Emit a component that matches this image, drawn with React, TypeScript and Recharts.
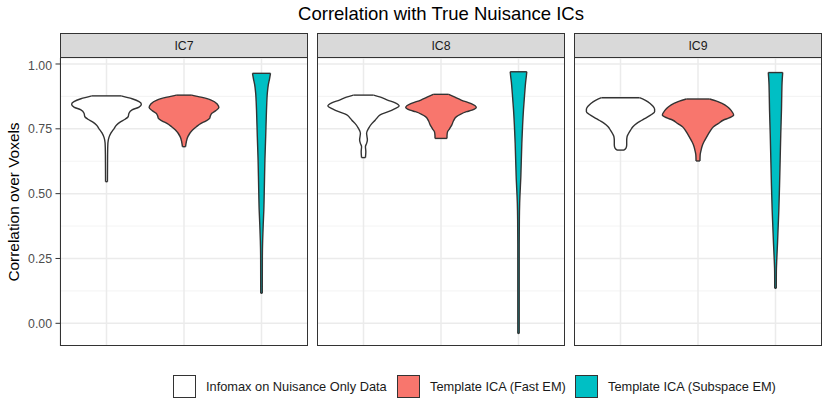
import React from 'react';
import { ComposedChart, Area, Line, XAxis, YAxis, CartesianGrid } from 'recharts';

const FACETS = ['IC7', 'IC8', 'IC9'];
const GROUPS = ['Infomax on Nuisance Only Data', 'Template ICA (Fast EM)', 'Template ICA (Subspace EM)'];
const GROUP_FILLS = ['#FFFFFF', '#F8766D', '#00BFC4'];
const Y_TICKS = [0, 0.25, 0.5, 0.75, 1];
const Y_MINOR = [0.125, 0.375, 0.625, 0.875];
const X_POS = [1, 2, 3];

// each violin: [correlation, half-width in x units], top to bottom
const IC7_INFOMAX = [
  [0.877, 0.19], [0.866, 0.33], [0.855, 0.42], [0.845, 0.45], [0.834, 0.42], [0.823, 0.33],
  [0.81, 0.29], [0.797, 0.28], [0.787, 0.24], [0.777, 0.18], [0.765, 0.13], [0.752, 0.1],
  [0.735, 0.06], [0.715, 0.03], [0.695, 0.018], [0.65, 0.014], [0.6, 0.013], [0.546, 0.012],
];
const IC7_FAST = [
  [0.88, 0.1], [0.872, 0.22], [0.861, 0.35], [0.845, 0.43], [0.832, 0.45], [0.82, 0.41],
  [0.81, 0.36], [0.8, 0.34], [0.79, 0.33], [0.78, 0.28], [0.771, 0.22], [0.758, 0.16],
  [0.745, 0.11], [0.72, 0.05], [0.7, 0.03], [0.681, 0.02],
];
const IC7_SUBSPACE = [
  [0.964, 0.116], [0.945, 0.105], [0.92, 0.088], [0.887, 0.075], [0.85, 0.068], [0.82, 0.064],
  [0.72, 0.054], [0.63, 0.044], [0.53, 0.037], [0.437, 0.03], [0.38, 0.022], [0.32, 0.015],
  [0.25, 0.011], [0.116, 0.01],
];
const IC8_INFOMAX = [
  [0.88, 0.13], [0.872, 0.22], [0.861, 0.31], [0.85, 0.41], [0.838, 0.46], [0.827, 0.4],
  [0.816, 0.32], [0.805, 0.22], [0.794, 0.18], [0.783, 0.15], [0.771, 0.11], [0.752, 0.065],
  [0.733, 0.04], [0.72, 0.045], [0.707, 0.05], [0.694, 0.04], [0.681, 0.025], [0.662, 0.03],
  [0.639, 0.025],
];
const IC8_FAST = [
  [0.883, 0.1], [0.872, 0.18], [0.861, 0.26], [0.847, 0.39], [0.833, 0.455], [0.822, 0.4],
  [0.816, 0.33], [0.806, 0.25], [0.797, 0.2], [0.78, 0.16], [0.765, 0.14], [0.75, 0.11],
  [0.739, 0.085], [0.725, 0.078], [0.713, 0.077],
];
const IC8_SUBSPACE = [
  [0.97, 0.107], [0.95, 0.1], [0.93, 0.092], [0.887, 0.08], [0.823, 0.064], [0.694, 0.043],
  [0.565, 0.03], [0.463, 0.015], [0.4, 0.011], [0.3, 0.009], [0.15, 0.009], [-0.039, 0.009],
];
const IC9_INFOMAX = [
  [0.87, 0.245], [0.862, 0.31], [0.855, 0.35], [0.84, 0.41], [0.826, 0.44], [0.816, 0.44],
  [0.805, 0.4], [0.794, 0.34], [0.782, 0.27], [0.771, 0.21], [0.758, 0.16], [0.745, 0.13],
  [0.73, 0.1], [0.72, 0.085], [0.705, 0.08], [0.688, 0.08], [0.675, 0.07], [0.668, 0.045],
];
const IC9_FAST = [
  [0.865, 0.15], [0.857, 0.24], [0.848, 0.31], [0.835, 0.38], [0.82, 0.43], [0.803, 0.46],
  [0.792, 0.4], [0.784, 0.33], [0.77, 0.26], [0.758, 0.2], [0.745, 0.165], [0.733, 0.14],
  [0.715, 0.105], [0.7, 0.077], [0.685, 0.055], [0.668, 0.04], [0.65, 0.028], [0.626, 0.025],
];
const IC9_SUBSPACE = [
  [0.967, 0.093], [0.93, 0.085], [0.887, 0.081], [0.823, 0.077], [0.73, 0.068], [0.63, 0.06],
  [0.53, 0.052], [0.437, 0.043], [0.37, 0.034], [0.309, 0.026], [0.244, 0.016], [0.2, 0.011],
  [0.135, 0.01],
];

const VIOLINS: Record<string, number[][][]> = {
  IC7: [IC7_INFOMAX, IC7_FAST, IC7_SUBSPACE],
  IC8: [IC8_INFOMAX, IC8_FAST, IC8_SUBSPACE],
  IC9: [IC9_INFOMAX, IC9_FAST, IC9_SUBSPACE],
};

const FONT = '"Liberation Sans", Arial, Helvetica, sans-serif';
const OUTLINE = '#333333';
const STROKE_W = 1.4;
const PANEL_TOP = 58;
const PANEL_H = 288;
const PANEL_W = 248;
const AXIS_W = 60;
const PANEL_LEFT = [60, 317, 574];
const Y_DOMAIN = [-0.0875, 1.0231];

const toRange = (pts: number[][], pos: number) => pts.map(([y, w]) => ({ y, v: [pos - w, pos + w] }));
const edge = (p: number[], pos: number) => [
  { y: p[0], v: pos - p[1] },
  { y: p[0], v: pos + p[1] },
];

const Panel = ({ facet, showAxis }: { facet: string; showAxis: boolean }) => {
  const violins = VIOLINS[facet];
  return (
    <ComposedChart
      layout="vertical"
      width={showAxis ? AXIS_W + PANEL_W : PANEL_W}
      height={PANEL_H}
      margin={{ top: 0, right: 0, bottom: 0, left: 0 }}
    >
      <CartesianGrid stroke="#F0F0F0" strokeWidth={0.8} vertical={false} yAxisId="minor" />
      <CartesianGrid stroke="#EBEBEB" strokeWidth={1.5} />
      <XAxis type="number" domain={[0.4, 3.6]} ticks={X_POS} allowDataOverflow hide />
      <YAxis
        yAxisId="minor"
        type="number"
        dataKey="y"
        reversed
        domain={Y_DOMAIN}
        ticks={Y_MINOR}
        allowDataOverflow
        hide
      />
      <YAxis
        type="number"
        dataKey="y"
        reversed
        domain={Y_DOMAIN}
        ticks={Y_TICKS}
        allowDataOverflow
        hide={!showAxis}
        width={AXIS_W}
        axisLine={false}
        tickLine={{ stroke: OUTLINE }}
        tickSize={4.5}
        tickMargin={3.5}
        tick={{ fill: '#4D4D4D', fontSize: 12.3, fontFamily: FONT }}
        tickFormatter={(v: number) => v.toFixed(2)}
      />
      {violins.map((pts, i) => (
        <Area
          key={`a${i}`}
          data={toRange(pts, X_POS[i])}
          dataKey="v"
          type="monotone"
          fill={GROUP_FILLS[i]}
          fillOpacity={1}
          stroke={OUTLINE}
          strokeWidth={STROKE_W}
          isAnimationActive={false}
        />
      ))}
      {violins.map((pts, i) => (
        <Line
          key={`t${i}`}
          data={edge(pts[0], X_POS[i])}
          dataKey="v"
          type="linear"
          stroke={OUTLINE}
          strokeWidth={STROKE_W}
          dot={false}
          isAnimationActive={false}
        />
      ))}
      {violins.map((pts, i) => (
        <Line
          key={`b${i}`}
          data={edge(pts[pts.length - 1], X_POS[i])}
          dataKey="v"
          type="linear"
          stroke={OUTLINE}
          strokeWidth={STROKE_W}
          dot={false}
          isAnimationActive={false}
        />
      ))}
    </ComposedChart>
  );
};

export default function App() {
  return (
    <div
      style={{
        position: 'absolute',
        left: 0,
        top: 0,
        width: 830,
        height: 415,
        background: '#FFFFFF',
        fontFamily: FONT,
        overflow: 'hidden',
      }}
    >
      <div
        style={{
          position: 'absolute',
          left: PANEL_LEFT[0],
          width: PANEL_LEFT[2] + PANEL_W - PANEL_LEFT[0],
          top: 3,
          textAlign: 'center',
          fontSize: 18.5,
          color: '#000',
        }}
      >
        Correlation with True Nuisance ICs
      </div>

      <div
        style={{
          position: 'absolute',
          left: 14,
          top: PANEL_TOP + PANEL_H / 2,
          transform: 'translate(-50%, -50%) rotate(-90deg)',
          whiteSpace: 'nowrap',
          fontSize: 15.4,
          color: '#000',
        }}
      >
        Correlation over Voxels
      </div>

      {FACETS.map((facet, i) => (
        <React.Fragment key={facet}>
          <div
            style={{
              position: 'absolute',
              left: PANEL_LEFT[i],
              top: 33,
              width: PANEL_W,
              height: PANEL_TOP - 33,
              boxSizing: 'border-box',
              background: '#D9D9D9',
              border: `1px solid ${OUTLINE}`,
              display: 'flex',
              alignItems: 'center',
              justifyContent: 'center',
              fontSize: 12.3,
              color: '#1A1A1A',
            }}
          >
            {facet}
          </div>
          <div
            style={{
              position: 'absolute',
              left: i === 0 ? 0 : PANEL_LEFT[i],
              top: PANEL_TOP,
            }}
          >
            <Panel facet={facet} showAxis={i === 0} />
          </div>
          <div
            style={{
              position: 'absolute',
              left: PANEL_LEFT[i],
              top: PANEL_TOP - 1,
              width: PANEL_W,
              height: PANEL_H + 1,
              boxSizing: 'border-box',
              border: `1px solid ${OUTLINE}`,
              pointerEvents: 'none',
            }}
          />
        </React.Fragment>
      ))}

      {GROUPS.map((g, i) => (
        <div
          key={g}
          style={{
            position: 'absolute',
            left: [173, 397, 575][i],
            top: 375,
            height: 23,
            display: 'flex',
            alignItems: 'center',
            whiteSpace: 'nowrap',
          }}
        >
          <div
            style={{
              width: 23,
              height: 23,
              boxSizing: 'border-box',
              background: GROUP_FILLS[i],
              border: `1.5px solid ${OUTLINE}`,
              marginRight: 10,
            }}
          />
          <span style={{ fontSize: 12.8, color: '#1A1A1A' }}>{g}</span>
        </div>
      ))}
    </div>
  );
}
